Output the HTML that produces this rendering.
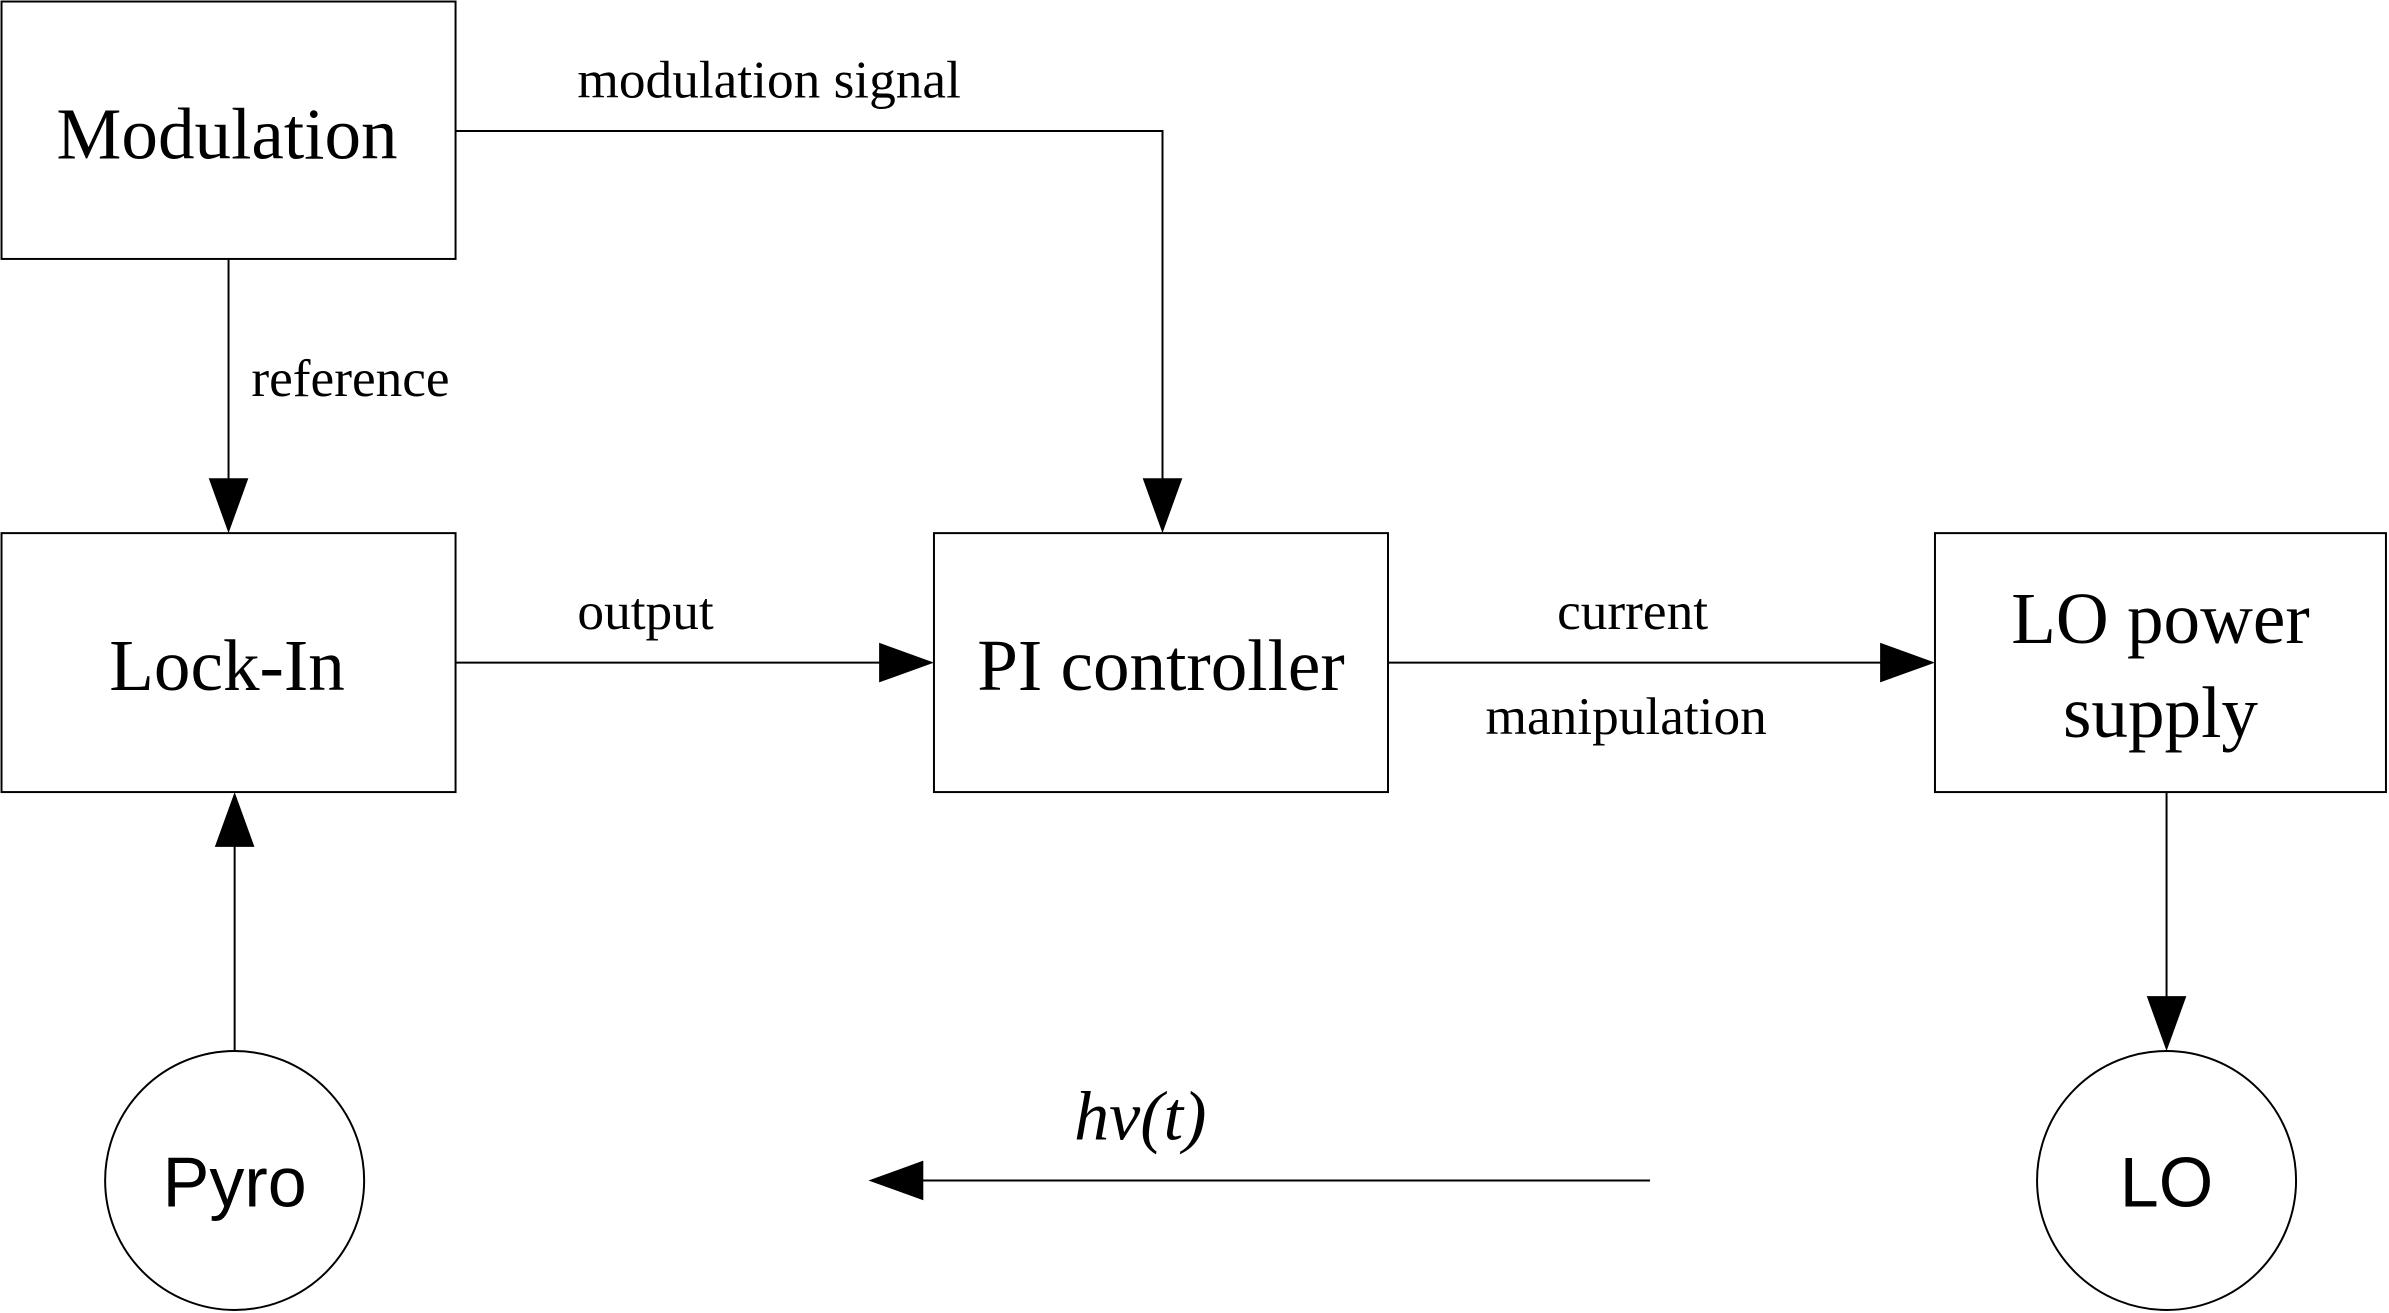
<!DOCTYPE html>
<html><head><meta charset="utf-8"><style>html,body{margin:0;padding:0;background:#fff}svg{display:block}</style></head>
<body>
<svg width="2389" height="1313" viewBox="0 0 1568 862" preserveAspectRatio="none" xmlns="http://www.w3.org/2000/svg">
<g fill="none" stroke="#000" stroke-width="1.3">
<rect x="1" y="1" width="298" height="169"/>
<rect x="1" y="350" width="298" height="170"/>
<rect x="613" y="350" width="298" height="170"/>
<rect x="1270" y="350" width="296" height="170"/>
<circle cx="154" cy="775" r="85"/>
<circle cx="1422" cy="775" r="85"/>
<polyline points="299,86 763,86 763,318"/>
<line x1="150" y1="170" x2="150" y2="318"/>
<line x1="299" y1="435" x2="580" y2="435"/>
<line x1="911" y1="435" x2="1237" y2="435"/>
<line x1="154" y1="690" x2="154" y2="555"/>
<line x1="1422" y1="520" x2="1422" y2="656"/>
<line x1="1083" y1="775" x2="605" y2="775"/>
</g>
<g fill="#000">
<polygon points="750,314 776,314 763,350"/>
<polygon points="137,314 163,314 150,350"/>
<polygon points="577,422 577,448 613,435"/>
<polygon points="1234,422 1234,448 1270,435"/>
<polygon points="141,556 167,556 154,520"/>
<polygon points="1409,654 1435,654 1422,690"/>
<polygon points="606,762 606,788 570,775"/>
</g>
<g font-family="Liberation Serif, serif" fill="#000" text-anchor="middle">
<text x="149" y="104" font-size="48">Modulation</text>
<text x="149" y="453" font-size="48">Lock-In</text>
<text x="762" y="453" font-size="48">PI controller</text>
<text x="1418" y="422" font-size="48">LO power</text>
<text x="1418" y="484" font-size="48">supply</text>
</g>
<g font-family="Liberation Serif, serif" fill="#000" font-size="35">
<text x="379" y="64">modulation signal</text>
<text x="165" y="260">reference</text>
<text x="379" y="413">output</text>
<text x="1022" y="413">current</text>
<text x="975" y="482">manipulation</text>
<text x="705" y="748" font-size="46" font-style="italic">hv(t)</text>
</g>
<g font-family="Liberation Sans, sans-serif" fill="#000" font-size="46" text-anchor="middle">
<text x="154" y="792">Pyro</text>
<text x="1422" y="792">LO</text>
</g>
</svg>
</body></html>
